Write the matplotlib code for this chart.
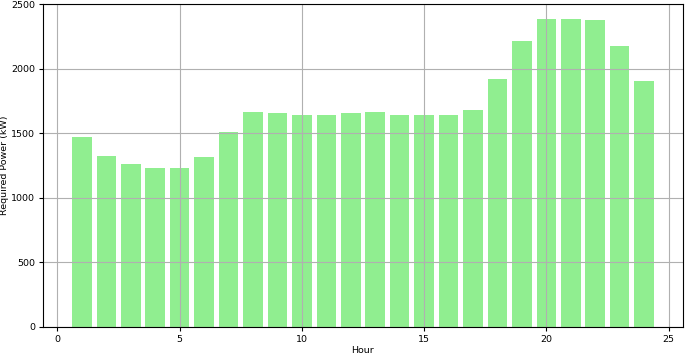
import matplotlib
matplotlib.use("Agg")
import matplotlib.pyplot as plt

hours = list(range(1, 25))
power = [1471, 1325, 1263, 1229, 1229, 1320, 1508, 1665, 1655, 1644, 1644, 1655,
         1665, 1639, 1644, 1639, 1678, 1922, 2219, 2383, 2383, 2378, 2175, 1902]

plt.rcParams['font.size'] = 6.8
fig = plt.figure(figsize=(6.85, 3.56), dpi=100)
ax = fig.add_axes([43/685, 1-327/356, 640/685, 323/356])
ax.bar(hours, power, color='lightgreen')
ax.set_xlabel('Hour', labelpad=2)
ax.set_ylabel('Required Power (kW)', labelpad=2)
ax.tick_params(length=3, pad=2.5)
ax.grid(True)
fig.savefig('out.png', dpi=100)
